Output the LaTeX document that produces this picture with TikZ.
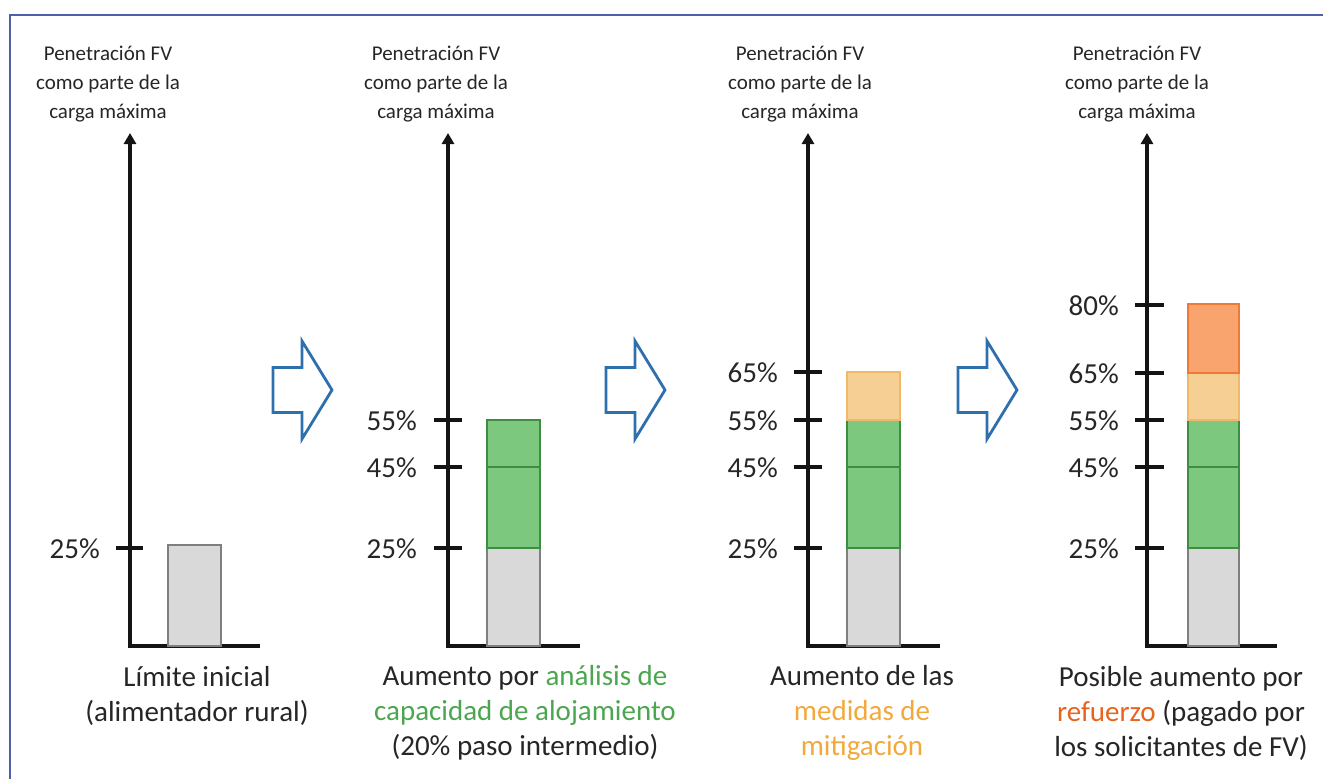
\documentclass[tikz,border=0pt]{standalone}
\usepackage{fontspec}
\setmainfont{Carlito}
\usetikzlibrary{arrows.meta}
\definecolor{axisc}{HTML}{141414}
\definecolor{textc}{HTML}{262626}
\definecolor{barGray}{HTML}{D9D9D9}
\definecolor{barGrayE}{HTML}{7F7F7F}
\definecolor{barGreen}{HTML}{7CC87E}
\definecolor{barGreenE}{HTML}{3E8E41}
\definecolor{barPeach}{HTML}{F5CF93}
\definecolor{barPeachE}{HTML}{F0B86A}
\definecolor{barOrange}{HTML}{F9A46E}
\definecolor{barOrangeE}{HTML}{EE7A35}
\definecolor{txtGreen}{HTML}{4CA64F}
\definecolor{txtYellow}{HTML}{F2A93B}
\definecolor{txtOrange}{HTML}{E8641E}
\definecolor{arrowBlue}{HTML}{2E6FAE}
\definecolor{frameBlue}{HTML}{5060A8}
\tikzset{
  axisline/.style={line width=4pt, draw=axisc, -{Triangle[length=11pt,width=12pt]}},
  baseline/.style={line width=4pt, draw=axisc},
  tickline/.style={line width=3.5pt, draw=axisc},
  ylabel/.style={font=\fontsize{29}{32}\selectfont, anchor=east, text=textc, inner sep=0pt},
  toplabel/.style={font=\fontsize{21}{29}\selectfont, align=center, text=textc, inner sep=0pt},
  caption/.style={font=\fontsize{29}{35}\selectfont, align=center, text=textc, inner sep=0pt},
  bargray/.style={fill=barGray, draw=barGrayE, line width=1.2pt},
  bargreen/.style={fill=barGreen, draw=barGreenE, line width=1.2pt},
  barpeach/.style={fill=barPeach, draw=barPeachE, line width=1.2pt},
  barorange/.style={fill=barOrange, draw=barOrangeE, line width=1.2pt},
  blockarrow/.style={draw=arrowBlue, line width=2.8pt, fill=white, line join=miter},
  blockarr/.pic={\draw[blockarrow] (0,-22.5) -- (29,-22.5) -- (29,-49) -- (59,0) -- (29,49) -- (29,22.5) -- (0,22.5) -- cycle;}
}
\begin{document}
\begin{tikzpicture}[x=1pt,y=-1pt]
\useasboundingbox (0,0) rectangle (1323,779);
% frame
\draw[frameBlue, line width=2pt] (10,779) -- (10,15) -- (1323,15);

% ---------- panel 1
\coordinate (o1) at (130,646);
\coordinate (t1) at (130,133);
\coordinate (e1) at (260,646);
\draw[axisline] (o1) -- (t1);
\draw[baseline] (128,646) -- (e1);
\draw[bargray] (168,646) rectangle (221,545);
\draw[tickline] (116,548) -- (143,548);
\node[ylabel] (p1l25) at (100,549) {25\%};
\node[toplabel] (p1top) at (108,84) {Penetración FV\\como parte de la\\carga máxima};
\node[caption] (p1cap) at (197,696) {Límite inicial\\(alimentador rural)};

% ---------- panel 2
\coordinate (o2) at (448,646);
\coordinate (t2) at (448,133);
\coordinate (e2) at (580,646);
\draw[axisline] (o2) -- (t2);
\draw[baseline] (446,646) -- (e2);
\draw[bargray] (487,646) rectangle (540,548);
\draw[bargreen] (487,548) rectangle (540,467);
\draw[bargreen] (487,467) rectangle (540,420);
\draw[tickline] (434,548) -- (462,548);
\draw[tickline] (434,467) -- (462,467);
\draw[tickline] (434,420) -- (462,420);
\node[ylabel] (p2l25) at (417,549) {25\%};
\node[ylabel] (p2l45) at (417,468) {45\%};
\node[ylabel] (p2l55) at (417,421) {55\%};
\node[toplabel] (p2top) at (436,84) {Penetración FV\\como parte de la\\carga máxima};
\node[caption] (p2cap) at (525,713) {Aumento por \textcolor{txtGreen}{análisis de}\\\textcolor{txtGreen}{capacidad de alojamiento}\\(20\% paso intermedio)};

% ---------- panel 3
\coordinate (o3) at (808,646);
\coordinate (t3) at (808,133);
\coordinate (e3) at (940,646);
\draw[axisline] (o3) -- (t3);
\draw[baseline] (806,646) -- (e3);
\draw[bargray] (847,646) rectangle (900,548);
\draw[bargreen] (847,548) rectangle (900,467);
\draw[bargreen] (847,467) rectangle (900,420);
\draw[barpeach] (847,420) rectangle (900,372);
\draw[tickline] (794,548) -- (822,548);
\draw[tickline] (794,467) -- (822,467);
\draw[tickline] (794,420) -- (822,420);
\draw[tickline] (794,372) -- (822,372);
\node[ylabel] (p3l25) at (778,549) {25\%};
\node[ylabel] (p3l45) at (778,468) {45\%};
\node[ylabel] (p3l55) at (778,421) {55\%};
\node[ylabel] (p3l65) at (778,373) {65\%};
\node[toplabel] (p3top) at (800,84) {Penetración FV\\como parte de la\\carga máxima};
\node[caption] (p3cap) at (862,713) {Aumento de las\\\textcolor{txtYellow}{medidas de}\\\textcolor{txtYellow}{mitigación}};

% ---------- panel 4
\coordinate (o4) at (1147,646);
\coordinate (t4) at (1147,133);
\coordinate (e4) at (1277,646);
\draw[axisline] (o4) -- (t4);
\draw[baseline] (1145,646) -- (e4);
\draw[bargray] (1188,646) rectangle (1239,548);
\draw[bargreen] (1188,548) rectangle (1239,467);
\draw[bargreen] (1188,467) rectangle (1239,420);
\draw[barpeach] (1188,420) rectangle (1239,373);
\draw[barorange] (1188,373) rectangle (1239,304);
\draw[tickline] (1135,548) -- (1164,548);
\draw[tickline] (1135,467) -- (1164,467);
\draw[tickline] (1135,420) -- (1164,420);
\draw[tickline] (1135,373) -- (1164,373);
\draw[tickline] (1135,305) -- (1164,305);
\node[ylabel] (p4l25) at (1119,549) {25\%};
\node[ylabel] (p4l45) at (1119,468) {45\%};
\node[ylabel] (p4l55) at (1119,421) {55\%};
\node[ylabel] (p4l65) at (1119,374) {65\%};
\node[ylabel] (p4l80) at (1119,306) {80\%};
\node[toplabel] (p4top) at (1137,84) {Penetración FV\\como parte de la\\carga máxima};
\node[caption] (p4cap) at (1181,713) {Posible aumento por\\\textcolor{txtOrange}{refuerzo} (pagado por\\los solicitantes de FV)};

% ---------- block arrows
\pic (ba1) at (273,390) {blockarr};
\pic (ba2) at (606,390) {blockarr};
\pic (ba3) at (958,390) {blockarr};
\end{tikzpicture}
\end{document}
